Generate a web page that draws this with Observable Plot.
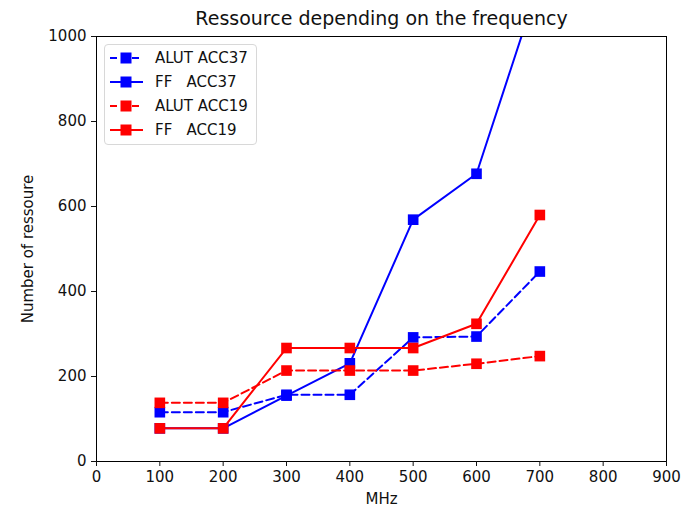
<!DOCTYPE html>
<html>
<head>
<meta charset="utf-8">
<script src="https://cdn.jsdelivr.net/npm/d3@7"></script>
<script src="https://cdn.jsdelivr.net/npm/@observablehq/plot@0.6"></script>
<style>
  html, body { margin: 0; padding: 0; background: #fff; }
  #wrap { position: relative; width: 691px; height: 506px; font-family: "DejaVu Sans", sans-serif; }
  #legend { position: absolute; left: 104px; top: 44px; width: 153px; height: 101px;
    border: 1px solid #d8d8d8; border-radius: 4px; background: rgba(255,255,255,0.8); box-sizing: border-box; padding-top: 1px; }
  .row { display: flex; align-items: center; height: 24px; font-size: 15px; color: #111; }
  .row svg { margin-left: 4px; margin-right: 10px; }
</style>
</head>
<body>
<div id="wrap"></div>
<script>
const title = "Ressource depending on the frequency";
const xLabel = "MHz";
const yLabel = "Number of ressoure";
const freqs = [100, 200, 300, 400, 500, 600, 700];
const alutAcc37 = [116, 116, 157, 157, 292, 294, 447];
const ffAcc37 = [78, 78, 155, 231, 569, 677, 1132];
const alutAcc19 = [138, 138, 214, 214, 214, 230, 248];
const ffAcc19 = [78, 78, 267, 267, 267, 324, 580];
const xTicks = [0, 100, 200, 300, 400, 500, 600, 700, 800, 900];
const yTicks = [0, 200, 400, 600, 800, 1000];

const seriesDefs = [
  {name: "ALUT ACC37", values: alutAcc37, color: "#0000ff", dashed: true},
  {name: "FF   ACC37", values: ffAcc37, color: "#0000ff", dashed: false},
  {name: "ALUT ACC19", values: alutAcc19, color: "#ff0000", dashed: true},
  {name: "FF   ACC19", values: ffAcc19, color: "#ff0000", dashed: false}
];

const marks = [];
for (const s of seriesDefs) {
  const rows = freqs.map((f, i) => ({x: f, y: s.values[i]}));
  marks.push(Plot.line(rows, {x: "x", y: "y", stroke: s.color, strokeWidth: 2,
    strokeDasharray: s.dashed ? "8,4" : null, clip: true}));
  marks.push(Plot.dot(rows, {x: "x", y: "y", symbol: "square", r: 6, fill: s.color, stroke: "none", clip: true}));
}

const chart = Plot.plot({
  width: 691,
  height: 506,
  marginLeft: 96,
  marginRight: 25,
  marginTop: 36,
  marginBottom: 45,
  style: {fontFamily: "DejaVu Sans, sans-serif", background: "#fff", color: "#111"},
  x: {domain: [0, 900], label: null},
  y: {domain: [0, 1000], label: null},
  marks: [
    ...marks,
    Plot.frame({stroke: "#000", strokeWidth: 1}),
    Plot.axisX({ticks: xTicks, tickFormat: d3.format("d"), tickSize: 5, tickPadding: 5, fontSize: 15, label: xLabel,
      labelAnchor: "center", labelArrow: "none", labelOffset: 42}),
    Plot.axisY({ticks: yTicks, tickFormat: d3.format("d"), tickSize: 5, tickPadding: 5, fontSize: 15, label: yLabel,
      labelAnchor: "center", labelArrow: "none", labelOffset: 74}),
    Plot.text([title], {frameAnchor: "top", dy: -18, lineAnchor: "middle", fontSize: 19, fill: "#111"})
  ]
});
const wrap = document.getElementById("wrap");
wrap.appendChild(chart);

const legend = document.createElement("div");
legend.id = "legend";
for (const s of seriesDefs) {
  const row = document.createElement("div");
  row.className = "row";
  const ns = "http://www.w3.org/2000/svg";
  const svg = document.createElementNS(ns, "svg");
  svg.setAttribute("width", 36); svg.setAttribute("height", 14);
  const line = document.createElementNS(ns, "line");
  line.setAttribute("x1", 1); line.setAttribute("x2", 34);
  line.setAttribute("y1", 7); line.setAttribute("y2", 7);
  line.setAttribute("stroke", s.color); line.setAttribute("stroke-width", 2);
  if (s.dashed) { line.setAttribute("stroke-dasharray", "7,4"); }
  svg.appendChild(line);
  const rect = document.createElementNS(ns, "rect");
  rect.setAttribute("x", 11.5); rect.setAttribute("y", 1.5); rect.setAttribute("width", 11); rect.setAttribute("height", 11);
  rect.setAttribute("fill", s.color);
  svg.appendChild(rect);
  row.appendChild(svg);
  const t = document.createElement("span");
  t.style.whiteSpace = "pre";
  t.textContent = s.name;
  row.appendChild(t);
  legend.appendChild(row);
}
wrap.appendChild(legend);
</script>
</body>
</html>
